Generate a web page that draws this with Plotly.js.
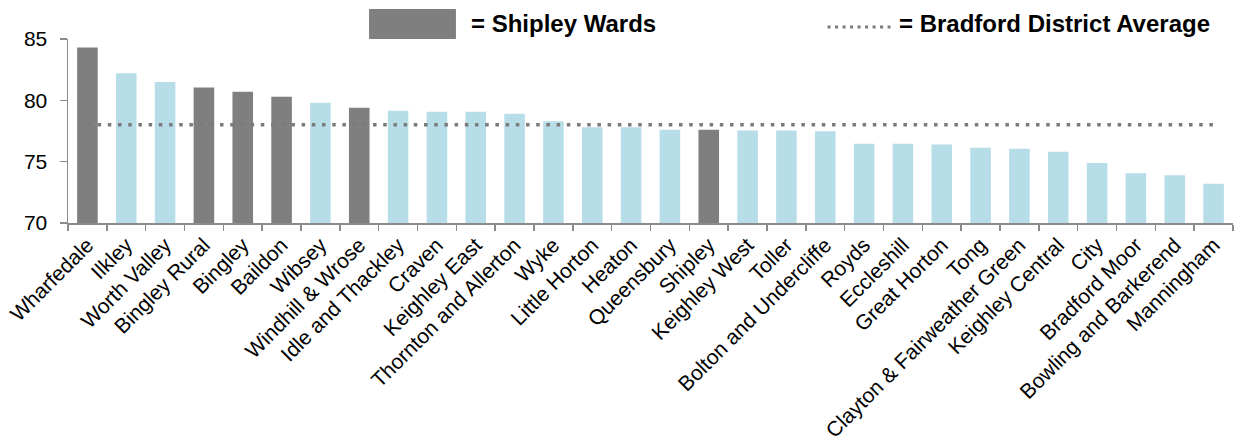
<!DOCTYPE html>
<html>
<head>
<meta charset="utf-8">
<script src="https://cdn.plot.ly/plotly-3.0.1.min.js"></script>
<style>
  html, body { margin: 0; padding: 0; background: #ffffff; }
  #chart { width: 1240px; height: 444px; }
</style>
</head>
<body>
<div id="chart"></div>
<script>
// ---- Data ----
const wards = [
  "Wharfedale", "Ilkley", "Worth Valley", "Bingley Rural", "Bingley", "Baildon",
  "Wibsey", "Windhill & Wrose", "Idle and Thackley", "Craven", "Keighley East",
  "Thornton and Allerton", "Wyke", "Little Horton", "Heaton", "Queensbury",
  "Shipley", "Keighley West", "Toller", "Bolton and Undercliffe", "Royds",
  "Eccleshill", "Great Horton", "Tong", "Clayton & Fairweather Green",
  "Keighley Central", "City", "Bradford Moor", "Bowling and Barkerend", "Manningham"
];
const values = [
  84.3, 82.2, 81.5, 81.05, 80.7, 80.3,
  79.8, 79.4, 79.15, 79.07, 79.07,
  78.9, 78.3, 77.8, 77.8, 77.6,
  77.6, 77.55, 77.55, 77.47, 76.47,
  76.47, 76.4, 76.14, 76.06,
  75.8, 74.9, 74.05, 73.9, 73.2
];
const shipleyWards = ["Wharfedale", "Bingley Rural", "Bingley", "Baildon", "Windhill & Wrose", "Shipley"];
const districtAverage = 78.0;
const yTicks = [70, 75, 80, 85];
const legendLabels = ["= Shipley Wards", "= Bradford District Average"];

// ---- Styling ----
const SHIPLEY_COLOR = "#7f7f7f";
const OTHER_COLOR = "#b7dde8";
const AXIS_COLOR = "#8c8c8c";
const FONT = "Arial, 'Liberation Sans', sans-serif";

const barColors = wards.map(w => shipleyWards.includes(w) ? SHIPLEY_COLOR : OTHER_COLOR);

const traces = [
  {
    type: "bar",
    x: wards,
    y: values,
    marker: { color: barColors, line: { width: 0 } },
    hoverinfo: "x+y",
    showlegend: false
  },
  {
    type: "scatter",
    mode: "lines",
    x: [wards[0], wards[wards.length - 1]],
    y: [districtAverage, districtAverage],
    line: { color: "#7a7a7a", width: 3.5, dash: "3.5px,6.7px" },
    hoverinfo: "skip",
    showlegend: false
  }
];

const layout = {
  width: 1240,
  height: 444,
  margin: { l: 68, r: 7, t: 39, b: 221, pad: 0 },
  paper_bgcolor: "#ffffff",
  plot_bgcolor: "#ffffff",
  font: { family: FONT, color: "#000000" },
  bargap: 0.47,
  showlegend: false,
  xaxis: {
    type: "category",
    showgrid: false,
    showline: true,
    linecolor: AXIS_COLOR,
    linewidth: 1.5,
    ticks: "outside",
    tickson: "boundaries",
    ticklen: 6,
    tickcolor: AXIS_COLOR,
    tickwidth: 1.5,
    tickangle: -45,
    tickfont: { family: FONT, size: 21, color: "#000000" },
    zeroline: false
  },
  yaxis: {
    range: [70, 85],
    tickvals: yTicks,
    ticktext: yTicks.map(String),
    showgrid: false,
    showline: true,
    linecolor: AXIS_COLOR,
    linewidth: 1.5,
    ticks: "outside",
    ticklen: 7,
    tickcolor: AXIS_COLOR,
    tickwidth: 1.5,
    tickfont: { family: FONT, size: 21, color: "#000000" },
    ticklabelstandoff: 8,
    zeroline: false
  },
  shapes: [
    {
      type: "rect", xref: "paper", yref: "paper",
      x0: 0.2584, x1: 0.3330, y0: 1.0, y1: 1.163,
      fillcolor: SHIPLEY_COLOR, line: { width: 0 }
    },
    {
      type: "line", xref: "paper", yref: "paper",
      x0: 0.652, x1: 0.706, y0: 1.065, y1: 1.065,
      line: { color: "#7a7a7a", width: 3, dash: "3px,4.5px" }
    }
  ],
  annotations: [
    {
      xref: "paper", yref: "paper", x: 0.3442, y: 1.085,
      xanchor: "left", yanchor: "middle", showarrow: false,
      text: "<b>" + legendLabels[0] + "</b>",
      font: { family: FONT, size: 24, color: "#000000" }
    },
    {
      xref: "paper", yref: "paper", x: 0.7116, y: 1.085,
      xanchor: "left", yanchor: "middle", showarrow: false,
      text: "<b>" + legendLabels[1] + "</b>",
      font: { family: FONT, size: 24, color: "#000000" }
    }
  ]
};

Plotly.newPlot("chart", traces, layout, { displayModeBar: false, staticPlot: true });
</script>
</body>
</html>
